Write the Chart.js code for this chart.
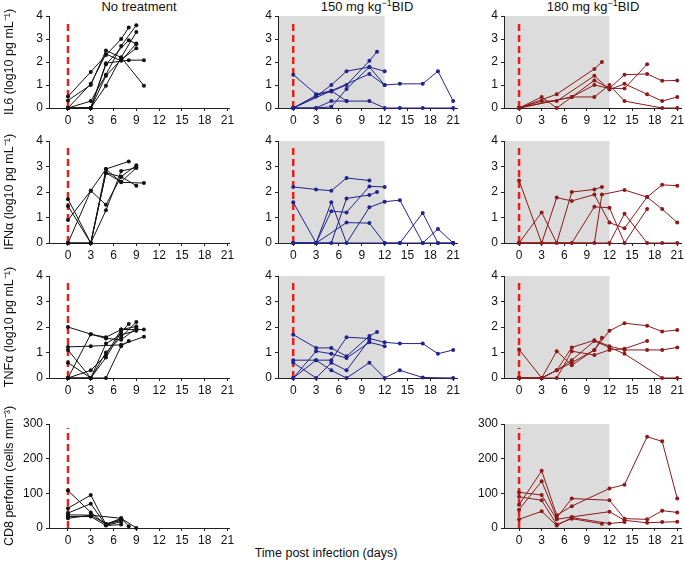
<!DOCTYPE html>
<html>
<head>
<meta charset="utf-8">
<script src="https://cdn.jsdelivr.net/npm/chart.js@4.4.1/dist/chart.umd.min.js"></script>
<style>
  body { margin: 0; background: #fff; width: 685px; height: 563px; position: relative; overflow: hidden;
         font-family: "Liberation Sans", Arial, Helvetica, sans-serif; color: #111; }
  .panel { position: absolute; }
  .lbl { position: absolute; white-space: nowrap; transform: translateX(-50%); line-height: 14px; }
  .lbl sup { font-size: 9px; line-height: 0; }
</style>
</head>
<body>
<div class="lbl" style="left:139px;top:0;font-size:13px">No treatment</div>
<div class="lbl" style="left:367px;top:0;font-size:13px">150 mg kg<sup>−1</sup>BID</div>
<div class="lbl" style="left:593px;top:0;font-size:13px">180 mg kg<sup>−1</sup>BID</div>
<div class="lbl" style="left:326px;top:546px;font-size:12.5px">Time post infection (days)</div>
<script>
"use strict";

// Axis ticks
const dayTicks = [0, 3, 6, 9, 12, 15, 18, 21];
const logTicks = [0, 1, 2, 3, 4];
const cellTicks = [0, 100, 200, 300];
const treatmentEnd = 12; // drug given until day 12

// Data: one inner array per animal, [day, value]
const il6None = [
    [[0, 0.5], [3, 1.57], [5, 2.3], [7, 3.0], [8, 3.5]],
    [[0, 0.33], [3, 1.0], [5, 2.5], [7, 2.2], [10, 0.97]],
    [[0, 0], [3, 0], [5, 1.95], [8, 2.08], [10, 2.08]],
    [[0, 0], [3, 0.3], [5, 1.45], [7, 2.7], [9, 3.6]],
    [[0, 0], [3, 0], [5, 0.97], [7, 2.2], [9, 3.3]],
    [[0, 0], [3, 0], [5, 1.9], [8, 2.95], [9, 2.78]],
    [[0, 0], [3, 0], [5, 1.4], [7, 2.1], [9, 2.6]],
    [[0, 0], [3, 1.05], [5, 2.35], [7, 2.05], [9, 2.8]]
];
const il6Bid150 = [
    [[0, 1.45], [3, 0.6], [5, 0.75], [7, 0.3]],
    [[0, 0], [3, 0.5], [5, 1.0], [7, 1.6], [10, 1.78], [12, 1.6]],
    [[0, 0], [3, 0.55], [5, 0.72], [7, 1.0], [10, 2.05], [11, 2.45]],
    [[0, 0], [3, 0], [5, 0.05], [7, 0.83], [10, 1.78], [12, 1.0], [14, 1.05], [17, 1.05], [19, 1.6], [21, 0.3]],
    [[0, 0], [3, 0], [5, 0.3], [7, 0.3], [10, 0.3], [12, 0], [14, 0], [17, 0], [21, 0]],
    [[0, 0], [5, 0.75], [10, 1.48], [12, 1.0]]
];
const il6Bid180 = [
    [[0, 0], [5, 0.6], [10, 1.7], [11, 2.0]],
    [[0, 0], [3, 0.48], [5, 0], [10, 1.2], [12, 0.85], [14, 1.45], [17, 1.48], [19, 1.18], [21, 1.2]],
    [[0, 0], [3, 0.3], [5, 0.3], [10, 1.4], [12, 0.8], [14, 1.05], [17, 0.6], [19, 0.3], [21, 0.48]],
    [[0, 0], [7, 0.48], [10, 0.48], [12, 1.0], [14, 0.3], [19, 0], [21, 0]],
    [[0, 0], [7, 0.48], [10, 1.0], [12, 0.85], [14, 0.85], [17, 1.9]]
];
const ifnNone = [
    [[0, 1.72], [3, 0], [5, 2.9], [8, 3.2]],
    [[0, 1.45], [3, 0], [5, 2.75], [7, 2.6], [9, 2.25]],
    [[0, 0.9], [3, 2.05], [5, 1.5], [7, 2.6], [9, 3.05]],
    [[0, 0], [3, 0], [5, 1.28], [7, 2.82], [9, 2.95]],
    [[0, 0], [3, 2.05], [5, 2.9], [7, 2.38], [10, 2.35]],
    [[0, 0], [3, 0], [5, 2.75], [7, 2.4], [9, 2.95]]
];
const ifnBid150 = [
    [[0, 2.2], [3, 2.1], [5, 2.05], [7, 2.55], [10, 2.45]],
    [[0, 1.6], [3, 0], [5, 1.6], [7, 0], [10, 1.4], [12, 1.62], [14, 1.68], [17, 0], [19, 0], [21, 0]],
    [[0, 0], [3, 0], [5, 1.25], [7, 1.2], [10, 2.22], [12, 2.2]],
    [[0, 0], [3, 0], [5, 0], [7, 1.75], [10, 1.88], [11, 2.0]],
    [[0, 0], [3, 0], [7, 0.8], [10, 0.78], [12, 0], [14, 0], [17, 1.18], [19, 0], [21, 0]],
    [[0, 0], [12, 0], [14, 0], [17, 0], [19, 0.55], [21, 0]]
];
const ifnBid180 = [
    [[0, 2.45], [3, 0], [5, 1.78], [7, 1.65], [10, 1.9], [12, 0.8], [14, 0.58], [17, 1.8], [19, 2.28], [21, 2.25]],
    [[0, 0], [3, 1.2], [5, 0], [7, 2.0], [10, 2.1], [11, 2.2]],
    [[0, 0], [7, 0], [10, 1.42], [12, 1.38], [14, 0], [17, 1.33]],
    [[0, 0], [10, 0], [11, 1.9], [14, 2.08], [17, 1.8], [19, 1.33], [21, 0.8]],
    [[0, 0], [12, 0], [14, 1.15], [17, 0], [19, 0], [21, 0]]
];
const tnfNone = [
    [[0, 2.0], [3, 1.72], [5, 1.6], [7, 1.9], [9, 2.02]],
    [[0, 1.22], [3, 1.25], [7, 1.3], [10, 1.62]],
    [[0, 1.1], [3, 0], [5, 1.0], [7, 1.6], [9, 2.2]],
    [[0, 0.6], [3, 0], [5, 0.8], [7, 1.8], [8, 2.12]],
    [[0, 0], [3, 1.72], [5, 1.55], [7, 1.5], [9, 1.95]],
    [[0, 0], [3, 0.3], [5, 0.9], [7, 1.9], [10, 1.9]],
    [[0, 0], [3, 0], [5, 0], [7, 1.25], [8, 1.45]],
    [[0, 0], [3, 0], [5, 1.35], [7, 1.7], [9, 1.85]]
];
const tnfBid150 = [
    [[0, 1.7], [3, 1.18], [5, 1.18], [7, 0.85], [10, 1.65], [11, 1.8]],
    [[0, 0.7], [3, 0.7], [5, 0.7], [7, 1.6], [10, 1.55], [12, 1.4], [14, 1.35], [17, 1.35], [19, 0.95], [21, 1.1]],
    [[0, 0], [3, 1.05], [5, 0.95], [7, 0.78], [10, 1.4], [12, 1.25]],
    [[0, 0.6], [3, 0], [5, 0.6], [7, 0.3], [10, 1.5]],
    [[0, 0], [3, 0.7], [5, 0.3], [7, 0], [10, 0.6], [12, 0], [14, 0.3], [17, 0.02], [21, 0]]
];
const tnfBid180 = [
    [[0, 1.12], [3, 0], [5, 1.05], [7, 0.5], [10, 1.1], [12, 1.85], [14, 2.15], [17, 2.05], [19, 1.82], [21, 1.88]],
    [[0, 0], [3, 0], [5, 0.3], [7, 1.2], [10, 1.48], [12, 1.25], [14, 1.1], [17, 1.1], [19, 1.1], [21, 1.2]],
    [[0, 0], [3, 0], [5, 0], [7, 1.05], [10, 0.9], [12, 1.1], [14, 1.15], [17, 1.45]],
    [[0, 0], [3, 0], [7, 0.6], [10, 1.1], [11, 1.58]],
    [[0, 0], [3, 0], [5, 0.3], [7, 0.7], [10, 1.45], [12, 1.2], [14, 0.95], [19, 0], [21, 0]]
];
const cd8None = [
    [[0, 108], [3, 45], [5, 10], [7, 28], [8, 5]],
    [[0, 57], [3, 95], [5, 10], [7, 22]],
    [[0, 43], [3, 70], [5, 8], [7, 18]],
    [[0, 38], [3, 37], [7, 28], [9, 0]],
    [[0, 33], [3, 33], [5, 7], [7, 10]],
    [[0, 28], [3, 37], [5, 12], [7, 25]]
];
const cd8Bid180 = [
    [[0, 67], [3, 165], [5, 37], [7, 63], [12, 114], [14, 125], [17, 263], [19, 250], [21, 85]],
    [[0, 53], [3, 135], [5, 30], [7, 85], [12, 80], [14, 27], [17, 25], [19, 50], [21, 45]],
    [[0, 103], [3, 95], [5, 25], [7, 32], [12, 47], [14, 22], [17, 15], [19, 17], [21, 18]],
    [[0, 90], [3, 80], [5, 10], [7, 27], [11, 12]],
    [[0, 25], [3, 48], [5, 7], [7, 30], [12, 13], [14, 17]]
];

// Layout of the grid (plot areas in page pixels)
const padTop = 30; // room for y titles longer than the plot
const xAxisH = 24;
const columns = [
    { left: 49, right: 229, min: -2.5, max: 21.2, yAxisW: 49, padRight: 8, color: '#111111' },
    { left: 278, right: 457, min: -2, max: 21.5, yAxisW: 30, padRight: 8, color: '#22238c' },
    { left: 504, right: 683, min: -2, max: 21.5, yAxisW: 30, padRight: 2, color: '#8c1a1a' }
];
const rows = [
    { top: 16, bottom: 108, max: 4, ticks: logTicks, title: 'IL6 (log10 pg mL⁻¹)' },
    { top: 141, bottom: 243, max: 4, ticks: logTicks, title: 'IFNα (log10 pg mL⁻¹)' },
    { top: 276, bottom: 378, max: 4, ticks: logTicks, title: 'TNFα (log10 pg mL⁻¹)' },
    { top: 424, bottom: 528, max: 300, ticks: cellTicks, title: 'CD8 perforin (cells mm⁻³)' }
];

const panels = [
    { col: 0, row: 0, data: il6None, shade: false },
    { col: 1, row: 0, data: il6Bid150, shade: true },
    { col: 2, row: 0, data: il6Bid180, shade: true },
    { col: 0, row: 1, data: ifnNone, shade: false },
    { col: 1, row: 1, data: ifnBid150, shade: true },
    { col: 2, row: 1, data: ifnBid180, shade: true },
    { col: 0, row: 2, data: tnfNone, shade: false },
    { col: 1, row: 2, data: tnfBid150, shade: true },
    { col: 2, row: 2, data: tnfBid180, shade: true },
    { col: 0, row: 3, data: cd8None, shade: false },
    { col: 2, row: 3, data: cd8Bid180, shade: true }
];

// gray treatment window + red dashed infection line
const infectionMarks = {
    id: 'infection',
    beforeDraw(chart, args, opts) {
        if (!opts.shade) return;
        const { ctx, chartArea, scales } = chart;
        const xEnd = scales.x.getPixelForValue(treatmentEnd);
        ctx.save();
        ctx.fillStyle = '#dcdcdc';
        ctx.fillRect(chartArea.left, chartArea.top, xEnd - chartArea.left, chartArea.bottom - chartArea.top);
        ctx.restore();
    },
    beforeDatasetsDraw(chart) {
        const { ctx, chartArea, scales } = chart;
        const px = scales.x.getPixelForValue(0);
        ctx.save();
        ctx.strokeStyle = '#e3201b';
        ctx.lineWidth = 2.5;
        ctx.setLineDash([7, 4]);
        ctx.beginPath();
        ctx.moveTo(px, chartArea.bottom);
        ctx.lineTo(px, chartArea.top + 4);
        ctx.stroke();
        ctx.restore();
    }
};

const tickFont = { family: '"Liberation Sans", Arial, sans-serif', size: 12 };
const axisColor = '#222';

function addPanel(p) {
    const col = columns[p.col];
    const row = rows[p.row];
    const box = document.createElement('div');
    box.className = 'panel';
    box.style.left = (col.left - col.yAxisW) + 'px';
    box.style.top = (row.top - padTop) + 'px';
    const canvas = document.createElement('canvas');
    canvas.width = col.yAxisW + (col.right - col.left) + col.padRight;
    canvas.height = padTop + (row.bottom - row.top) + xAxisH;
    box.appendChild(canvas);
    document.body.appendChild(box);

    const datasets = p.data.map(s => ({
        data: s.map(([x, y]) => ({ x: x, y: y })),
        borderColor: col.color,
        backgroundColor: col.color,
        borderWidth: 1,
        pointRadius: 2,
        pointBorderWidth: 0,
        pointBackgroundColor: col.color,
        tension: 0,
        clip: false
    }));

    new Chart(canvas, {
        type: 'line',
        data: { datasets: datasets },
        options: {
            responsive: false,
            animation: false,
            events: [],
            layout: { padding: { top: padTop, right: col.padRight, left: 0, bottom: 0 } },
            plugins: {
                legend: { display: false },
                tooltip: { enabled: false },
                infection: { shade: p.shade }
            },
            scales: {
                x: {
                    type: 'linear',
                    min: col.min,
                    max: col.max,
                    afterBuildTicks: s => { s.ticks = dayTicks.map(v => ({ value: v })); },
                    afterFit: s => { s.height = xAxisH; s.paddingLeft = 0; s.paddingRight = 0; },
                    grid: { display: true, drawOnChartArea: false, drawTicks: true, tickLength: 3, color: axisColor },
                    border: { display: true, color: axisColor, width: 1 },
                    ticks: { font: tickFont, color: '#111', padding: 2, maxRotation: 0, autoSkip: false }
                },
                y: {
                    type: 'linear',
                    min: 0,
                    max: row.max,
                    afterBuildTicks: s => { s.ticks = row.ticks.map(v => ({ value: v })); },
                    afterFit: s => { s.width = col.yAxisW; s.paddingTop = 0; s.paddingBottom = 0; },
                    grid: { display: true, drawOnChartArea: false, drawTicks: true, tickLength: 3, color: axisColor },
                    border: { display: true, color: axisColor, width: 1 },
                    ticks: { font: tickFont, color: '#111', padding: 3 },
                    title: {
                        display: p.col === 0,
                        text: row.title,
                        color: '#111',
                        font: { family: '"Liberation Sans", Arial, sans-serif', size: 12.5 },
                        padding: { top: 2, bottom: 0 }
                    }
                }
            }
        },
        plugins: [infectionMarks]
    });
}

panels.forEach(addPanel);
</script>
</body>
</html>
